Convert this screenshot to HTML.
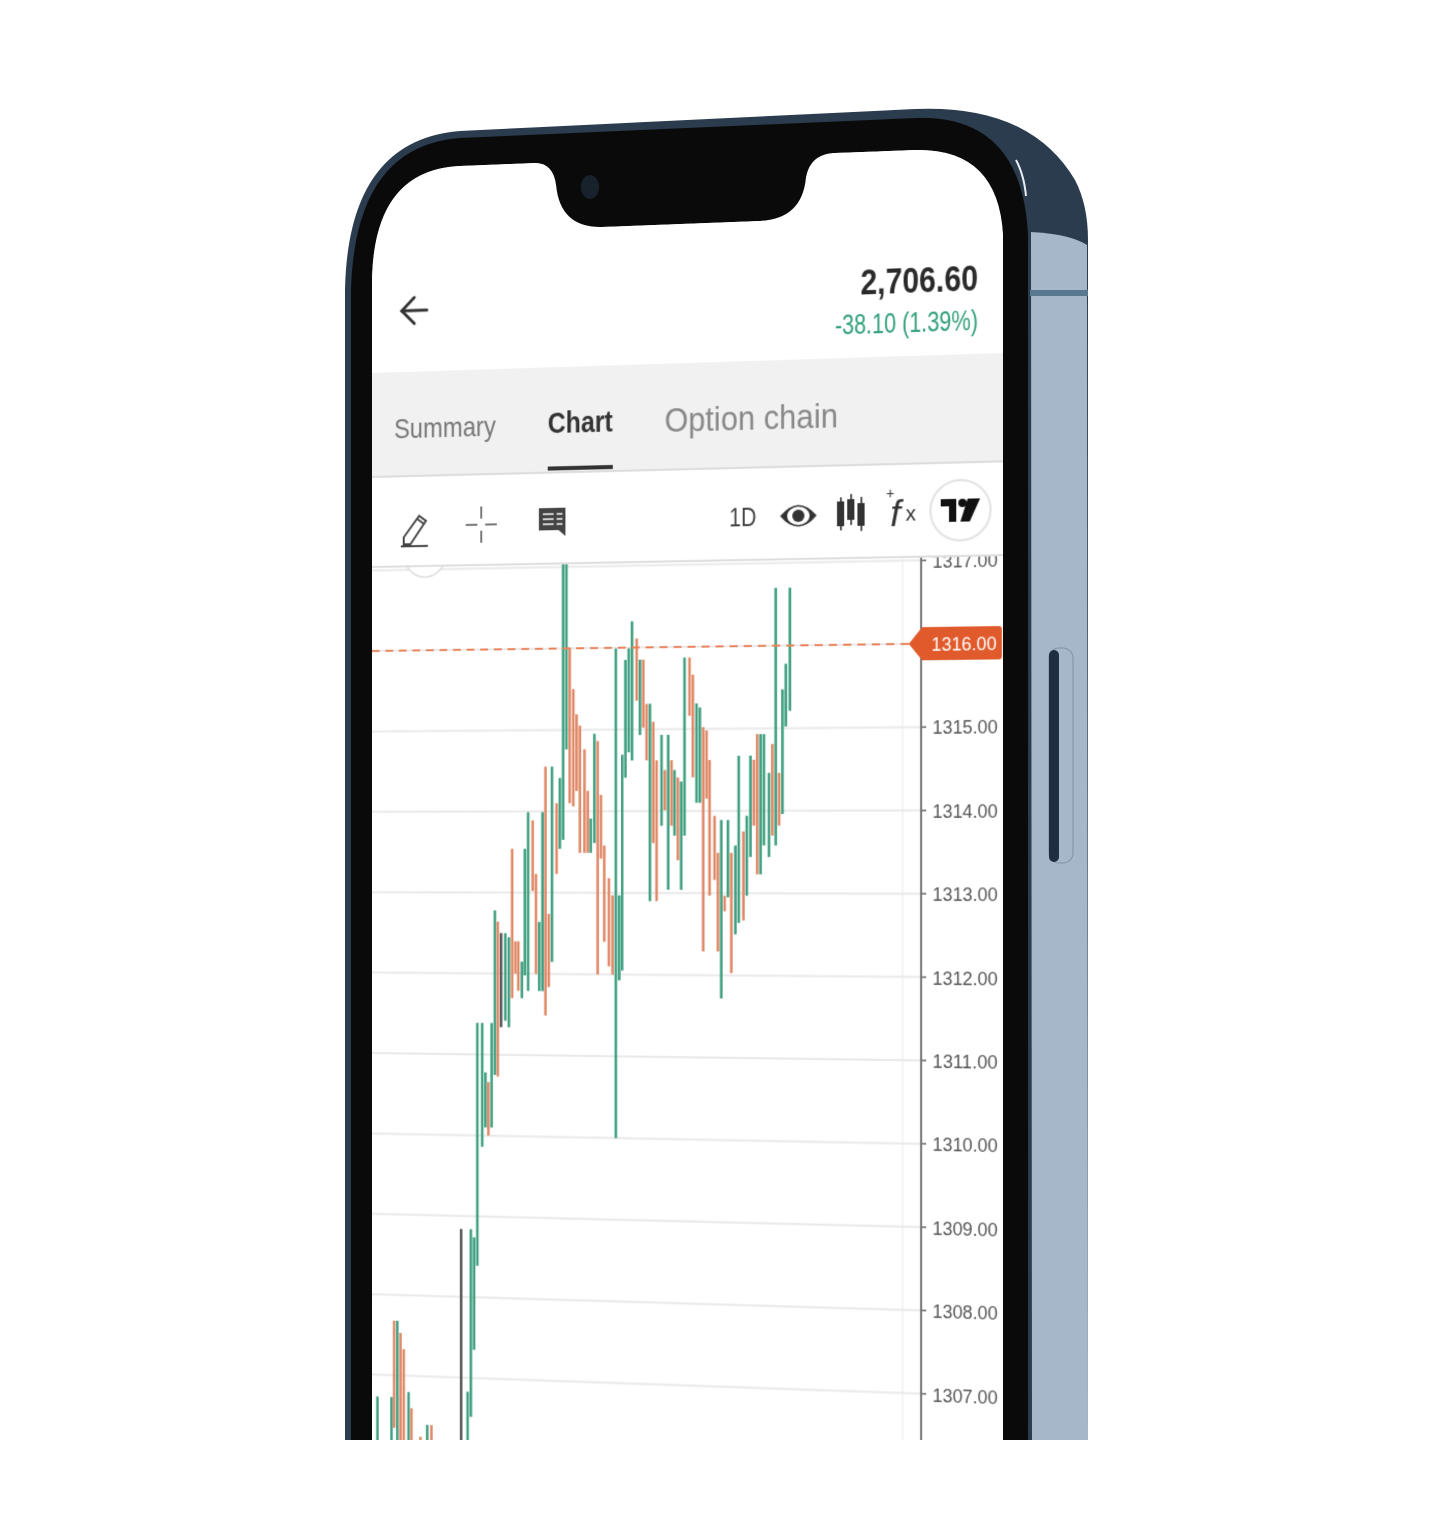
<!DOCTYPE html>
<html><head><meta charset="utf-8">
<style>
html,body{margin:0;padding:0;background:#fff;width:1440px;height:1440px;overflow:hidden;}
#frame{position:absolute;left:0;top:0;}
#screenClip{position:absolute;left:0;top:0;width:1440px;height:1440px;
 clip-path:path('M372,1440 L372,285 Q372,170 460,166 L535,163 Q553,163 556,185 Q560,228 602,227 L760,221 Q802,219 806,178 Q810,154 835,153 L915,150 Q998,148 1003,235 L1003,1440 Z');background:#fff;}
#flat{position:absolute;left:0;top:0;width:640px;height:1500px;transform-origin:0 0;}
text{font-family:"Liberation Sans",sans-serif;}
</style></head>
<body>
<svg id="frame" width="1440" height="1440" viewBox="0 0 1440 1440">
  <path d="M345,1440 L345,290 Q348,140 460,131 L915,109 Q1030,104 1075,180 Q1088,205 1088,240 L1088,1440 Z" fill="#2b3c4e"/>
  <path d="M1031,232 Q1070,234 1087,245 L1088,1440 L1032,1440 Z" fill="#a5b7c8"/>
  <rect x="1030" y="290" width="58" height="6" fill="#587890"/>
  <path d="M1016,160 Q1024,175 1026,196" stroke="#e8eef3" stroke-width="2" fill="none"/>
  <path d="M351,1440 L351,290 Q355,146 460,138 L915,118 Q1022,114 1028,235 L1028,1440 Z" fill="#0a0a0a"/>
  <rect x="1049" y="648" width="24" height="215" rx="10" fill="#a5b7c8" stroke="#7f93a6" stroke-width="1"/>
  <rect x="1049" y="650" width="10" height="212" rx="5" fill="#1e2d40"/>
</svg>
<div id="screenClip">
  <div id="flat">
  <svg id="flatsvg" width="640" height="1500" viewBox="0 0 640 1500">
    <rect x="0" y="0" width="640" height="1500" fill="#fff"/>
    <g id="chart"></g>
    <g>
      <rect x="0" y="0" width="640" height="373" fill="#fff"/>
      <g stroke="#333" stroke-width="3" fill="none" stroke-linecap="round">
        <line x1="31" y1="312" x2="57" y2="312"/>
        <polyline points="44,299 31,312 44,325"/>
      </g>
      <text x="607" y="312" text-anchor="end" font-size="36" font-weight="bold" fill="#2a2a2a" textLength="114" lengthAdjust="spacingAndGlyphs">2,706.60</text>
      <text x="607" y="350" text-anchor="end" font-size="27" fill="#2e9e78" textLength="139" lengthAdjust="spacingAndGlyphs">-38.10 (1.39%)</text>
    </g>
    <g>
      <rect x="0" y="373" width="640" height="104" fill="#f1f1f1"/>
      <line x1="0" y1="477" x2="640" y2="477" stroke="#dcdcdc" stroke-width="2"/>
      <text x="23" y="439" font-size="28" fill="#777" textLength="105" lengthAdjust="spacingAndGlyphs">Summary</text>
      <text x="181" y="438" font-size="29" font-weight="bold" fill="#333" textLength="66" lengthAdjust="spacingAndGlyphs">Chart</text>
      <rect x="181" y="471" width="66" height="4" fill="#333"/>
      <text x="299" y="440" font-size="33" fill="#888" textLength="172" lengthAdjust="spacingAndGlyphs">Option chain</text>
    </g>
    <g>
      <rect x="0" y="478" width="640" height="89" fill="#fff"/>
      <line x1="0" y1="567" x2="640" y2="567" stroke="#dedede" stroke-width="2"/>
      <g stroke="#444" stroke-width="2" fill="none">
        <path d="M33,538 L33,545 L40,545 L56,522 L49,517 Z"/>
        <line x1="47" y1="520" x2="54" y2="525"/>
        <line x1="30" y1="547" x2="58" y2="547"/>
      </g>
      <g stroke="#555" stroke-width="1.6">
        <line x1="113" y1="509" x2="113" y2="521"/><line x1="113" y1="533" x2="113" y2="545"/>
        <line x1="97" y1="527" x2="109" y2="527"/><line x1="117" y1="527" x2="129" y2="527"/>
      </g>
      <g>
        <path d="M172,512 L199,512 L199,540 L192,534 L172,534 Z" fill="#444"/>
        <g stroke="#fff" stroke-width="1.5">
          <line x1="176" y1="518" x2="187" y2="518"/><line x1="176" y1="523" x2="187" y2="523"/><line x1="176" y1="528" x2="187" y2="528"/>
          <line x1="190" y1="518" x2="196" y2="518"/><line x1="190" y1="523" x2="196" y2="523"/><line x1="190" y1="528" x2="196" y2="528"/>
        </g>
      </g>
      <text x="377" y="534" text-anchor="middle" font-size="25" fill="#444" textLength="27" lengthAdjust="spacingAndGlyphs">1D</text>
      <g>
        <path d="M414,525 Q432,504 450,525 Q432,546 414,525 Z" fill="#333"/>
        <ellipse cx="432" cy="525" rx="11" ry="9" fill="#fff"/>
        <circle cx="432" cy="525" r="6" fill="#333"/>
      </g>
      <g fill="#333">
        <rect x="470" y="512" width="7" height="24"/><rect x="473" y="508" width="1.6" height="32"/>
        <rect x="480" y="510" width="7" height="20"/><rect x="483" y="505" width="1.6" height="30"/>
        <rect x="490" y="514" width="7" height="22"/><rect x="493" y="508" width="1.6" height="33"/>
      </g>
      <g fill="#333">
        <text x="518" y="510" font-size="14">+</text>
        <text x="522" y="537" font-size="36" font-style="italic" font-family="Liberation Serif, serif">f</text>
        <text x="537" y="532" font-size="20">x</text>
      </g>
      <g>
        <circle cx="590" cy="523" r="29" fill="#fff" stroke="#e2e2e2" stroke-width="2"/>
        <path d="M571,512 L586,512 L586,534 L579,534 L579,519 L571,519 Z" fill="#111"/>
        <circle cx="592" cy="516" r="4" fill="#111"/>
        <path d="M597,512 L609,512 L599,534 L590,534 Z" fill="#111"/>
      </g>
    </g>
  </svg>
  </div>
</div>
<svg width="1440" height="1440" style="position:absolute;left:0;top:0;pointer-events:none">
  <ellipse cx="590" cy="187" rx="9" ry="12" fill="#18222d"/>
</svg>
<script>
// ---- chart data ----
const barTime = [0.8,5.2,6.0,7.0,8.0,9.0,10.5,11.4,12.5,14.2,16.3,17.6,26.8,28.8,29.8,30.8,31.8,33.3,34.3,35.2,36.2,37.2,38.1,39.1,40.4,41.5,42.5,43.5,44.4,45.5,46.4,47.4,48.8,49.8,50.8,51.8,52.7,53.7,54.7,56.1,57.1,58.1,59.1,60.1,61.2,62.2,63.2,64.6,65.6,66.5,67.6,68.6,69.6,70.6,72.0,73.1,74.1,75.1,76.0,77.0,78.0,79.0,80.4,81.4,82.4,83.4,84.4,85.4,86.4,87.9,88.9,89.9,90.9,91.8,92.8,93.8,94.8,96.3,97.3,98.4,99.4,100.4,101.4,102.3,103.8,104.8,105.8,106.8,107.8,108.8,110.0,111.0,112.4,113.4,114.5,115.5,116.5,117.5,118.5,120.0,121.0,122.0,123.0,124.0,125.0,126.2];
const barHigh = [1306.73,1306.73,1307.68,1307.68,1307.53,1307.33,1306.8,1306.6,1306.2,1306.25,1306.4,1306.4,1308.84,1306.83,1308.84,1308.74,1311.39,1311.39,1310.78,1310.66,1311.39,1312.78,1312.64,1312.5,1312.5,1312.45,1313.54,1312.4,1312.4,1312.15,1313.54,1313.99,1313.89,1313.23,1312.64,1313.99,1314.55,1312.74,1314.55,1314.1,1314.41,1317.1,1317.1,1316.01,1315.5,1315.19,1315.05,1314.76,1314.25,1313.91,1314.95,1314.86,1314.2,1313.58,1313.18,1312.97,1315.99,1312.97,1314.69,1315.85,1315.99,1316.32,1316.11,1315.85,1315.85,1315.31,1315.31,1315.09,1314.62,1314.93,1314.5,1314.93,1314.62,1314.5,1314.41,1314.36,1315.87,1315.87,1315.66,1315.31,1315.26,1315.02,1314.98,1314.62,1313.94,1313.49,1313.89,1312.97,1313.89,1313.49,1313.58,1314.67,1313.75,1313.94,1314.67,1314.62,1314.93,1314.93,1314.93,1314.46,1314.81,1316.7,1314.46,1315.47,1315.78,1316.7];
const barLow = [1305.5,1305.5,1306.35,1305.5,1305.5,1305.5,1305.5,1305.5,1305.5,1305.5,1305.5,1305.5,1305.5,1305.5,1306.52,1307.35,1308.39,1309.86,1310.1,1310.0,1310.1,1310.75,1310.73,1311.34,1311.42,1311.34,1311.7,1312.0,1311.79,1311.7,1311.98,1311.79,1313.02,1312.0,1311.79,1311.79,1311.49,1311.84,1312.15,1313.23,1313.54,1313.65,1314.76,1314.1,1314.06,1314.25,1313.49,1313.49,1313.49,1313.49,1313.61,1312.0,1313.42,1312.4,1312.1,1312.0,1310.0,1311.93,1312.05,1314.41,1314.72,1314.62,1315.35,1314.93,1315.02,1314.62,1312.9,1313.61,1312.9,1313.82,1314.01,1313.04,1313.82,1313.7,1313.4,1313.04,1313.7,1315.16,1314.41,1314.1,1314.1,1312.29,1314.15,1312.97,1313.16,1312.29,1311.72,1312.78,1312.95,1312.03,1312.5,1312.64,1312.67,1312.97,1313.44,1313.82,1313.23,1313.23,1313.58,1313.44,1313.7,1313.58,1313.82,1313.96,1315.02,1315.21];
const barDir = [1,1,-1,1,-1,-1,1,-1,1,-1,1,-1,0,1,1,1,1,1,1,-1,1,1,-1,0,1,1,-1,-1,-1,1,1,1,-1,-1,1,1,-1,-1,1,-1,1,1,1,-1,-1,-1,-1,-1,-1,1,1,-1,-1,-1,-1,-1,1,1,1,1,1,1,-1,1,-1,-1,1,-1,-1,1,-1,1,-1,1,-1,1,1,-1,-1,1,1,-1,-1,-1,-1,-1,1,-1,1,-1,1,1,-1,1,1,-1,-1,1,1,1,-1,1,-1,1,1,1];
const tickValues = [1307,1308,1309,1310,1311,1312,1313,1314,1315,1316,1317];
const tickLabels = ["1307.00","1308.00","1309.00","1310.00","1311.00","1312.00","1313.00","1314.00","1315.00","1316.00","1317.00"];
const lastPrice = 1316;
const lastPriceLabel = "1316.00";

const NS = "http://www.w3.org/2000/svg";
const xScale = t => t * 10 / 3 + 3;
const yScale = p => 651 + (1316 - p) * 80.4;
const AXIS_U = 552;
const chart = document.getElementById('chart');
function mk(tag, attrs, parent){ const e=document.createElementNS(NS,tag); for(const k in attrs) e.setAttribute(k,attrs[k]); (parent||chart).appendChild(e); return e; }

const vg = mk('line',{x1:534,y1:560,x2:534,y2:1500,stroke:'#f0f0f0','stroke-width':1.5});


tickValues.forEach((v,i)=>{
  const y=yScale(v);
  const g=mk('line',{x1:0,y1:y,x2:AXIS_U,y2:y,stroke:'#e9e9e9','stroke-width':2});
  
  
  const tk=mk('line',{x1:AXIS_U,y1:y,x2:AXIS_U+5,y2:y,stroke:'#666','stroke-width':1.5});
  
  
  const t=mk('text',{x:563,y:y+7,'font-size':19,fill:'#555',textLength:63,lengthAdjust:'spacingAndGlyphs'});
  t.textContent=tickLabels[i];
  
  
});
const ax=mk('line',{x1:AXIS_U,y1:560,x2:AXIS_U,y2:1500,stroke:'#777','stroke-width':2});


const circ=mk('circle',{cx:55,cy:557,r:21,fill:'#fff',stroke:'#ddd','stroke-width':1.5});



const colors={1:'#3f9f80','-1':'#e08866',0:'#555'};
barTime.forEach((t,i)=>{
  const x=xScale(t);
  const b=mk('line',{x1:x,y1:yScale(barHigh[i]),x2:x,y2:yScale(barLow[i]),stroke:colors[barDir[i]],'stroke-width':2.6});
  
  
});
const ly=yScale(lastPrice);
const dl=mk('line',{x1:0,y1:ly,x2:540,y2:ly,stroke:'#e8835a','stroke-width':2,'stroke-dasharray':'8 6'});


const tag=mk('path',{d:`M540,${ly} L553,${ly-16} L627,${ly-16} Q630,${ly-16} 630,${ly-13} L630,${ly+13} Q630,${ly+16} 627,${ly+16} L553,${ly+16} Z`,fill:'#e05a2b'});


const tt=mk('text',{x:562,y:ly+7,'font-size':19,fill:'#fff',textLength:63,lengthAdjust:'spacingAndGlyphs'});
tt.textContent=lastPriceLabel;



function homography(src,dst){
  const A=[],b=[];
  for(let i=0;i<4;i++){
    const [x,y]=src[i],[X,Y]=dst[i];
    A.push([x,y,1,0,0,0,-x*X,-y*X]); b.push(X);
    A.push([0,0,0,x,y,1,-x*Y,-y*Y]); b.push(Y);
  }
  const n=8;
  for(let c=0;c<n;c++){
    let p=c; for(let r=c+1;r<n;r++) if(Math.abs(A[r][c])>Math.abs(A[p][c])) p=r;
    [A[c],A[p]]=[A[p],A[c]]; [b[c],b[p]]=[b[p],b[c]];
    for(let r=0;r<n;r++){ if(r===c) continue; const f=A[r][c]/A[c][c];
      for(let k=c;k<n;k++) A[r][k]-=f*A[c][k]; b[r]-=f*b[c]; }
  }
  return b.map((v,i)=>v/A[i][i]);
}
const h=homography([[0,373],[631,373],[0,1374],[631,1374]],[[372,373],[1003,353],[372,1374],[1003,1396]]);
document.getElementById('flat').style.transform=
 `matrix3d(${h[0]},${h[3]},0,${h[6]},${h[1]},${h[4]},0,${h[7]},0,0,1,0,${h[2]},${h[5]},0,1)`;
</script>
</body></html>
